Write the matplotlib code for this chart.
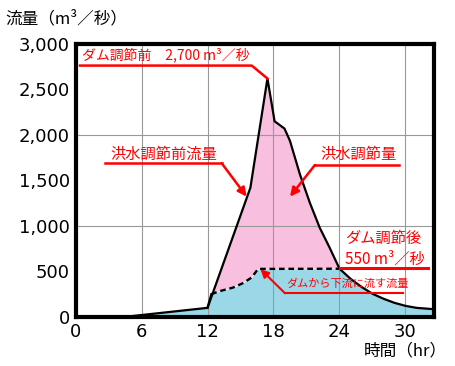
import matplotlib
matplotlib.use("Agg")
import matplotlib.pyplot as plt
import numpy as np

JP = ["Noto Sans CJK JP", "DejaVu Sans"]
plt.rcParams['font.family'] = JP

# ---- data ----
inflow_t = [4.4, 12.0, 15.9, 17.45, 18.1, 19.0, 19.5, 20.4, 21.3, 22.2, 23.1, 24.0,
            25.0, 26.0, 27.0, 28.0, 29.0, 30.0, 31.0, 32.6]
inflow_q = [0, 100, 1420, 2620, 2150, 2070, 1934, 1568, 1256, 981, 762, 530,
            420, 330, 255, 200, 155, 122, 100, 85]
outflow_t = [12.0, 12.35, 13.0, 14.3, 15.2, 16.0, 16.6, 24.0]
outflow_q = [100, 250, 280, 322, 370, 432, 528, 530]

x_ticks = [0, 6, 12, 18, 24, 30]
y_ticks = [0, 500, 1000, 1500, 2000, 2500, 3000]
y_tick_labels = ["0", "500", "1,000", "1,500", "2,000", "2,500", "3,000"]
y_grid = [1000, 2000]

PINK = "#f8c0de"
BLUE = "#9ad8e8"
RED = "#ff0000"

fig = plt.figure(figsize=(4.55, 3.66), dpi=100)
ax = fig.add_axes([0.166, 0.134, 0.788, 0.746])
ax.set_xlim(0, 32.6)
ax.set_ylim(0, 3000)

# combined outflow (equal to inflow outside the regulation period)
it = np.array(inflow_t); iq = np.array(inflow_q)
ot = np.array(outflow_t); oq = np.array(outflow_q)
pre = it < outflow_t[0]
post = it > outflow_t[-1]
comb_t = np.concatenate([it[pre], ot, it[post]])
comb_q = np.concatenate([iq[pre], oq, iq[post]])

grid_t = np.union1d(it, comb_t)
in_i = np.interp(grid_t, it, iq)
out_i = np.interp(grid_t, comb_t, comb_q)

ax.fill_between(grid_t, 0, out_i, color=BLUE, lw=0, zorder=1)
ax.fill_between(grid_t, out_i, in_i, where=in_i >= out_i, color=PINK, lw=0, zorder=1, interpolate=True)

for x in x_ticks[1:]:
    ax.axvline(x, color="#999999", lw=0.8, zorder=2)
for y in y_grid:
    ax.axhline(y, color="#999999", lw=0.8, zorder=2)

ax.plot(it, iq, color="black", lw=1.6, zorder=4, solid_joinstyle="miter")
ax.plot(ot[:2], oq[:2], color="black", lw=1.6, zorder=4)
ax.plot(ot[1:], oq[1:], color="black", lw=1.7, ls=(0, (2.4, 1.6)), zorder=4)

for s in ax.spines.values():
    s.set_linewidth(3.0)
    s.set_zorder(6)

ax.set_xticks(x_ticks)
ax.set_xticklabels([str(v) for v in x_ticks], family="DejaVu Sans", fontsize=13)
ax.set_yticks(y_ticks)
ax.set_yticklabels(y_tick_labels, family="DejaVu Sans", fontsize=13)
ax.tick_params(length=0, pad=4)

fig.text(0.011, 0.948, "流量（m³／秒）", fontsize=12, va="center", ha="left")
fig.text(0.982, 0.04, "時間（hr）", fontsize=12, va="center", ha="right")

# ---- annotations ----
# before regulation peak
ax.text(0.59, 2880, "ダム調節前　2,700 m³／秒", color=RED, fontsize=10, va="center", ha="left", zorder=7)
ax.plot([0.41, 16.02, inflow_t[3]], [2762, 2762, inflow_q[3]], color=RED, lw=1.8, zorder=7, clip_on=False)

# inflow label
ax.text(3.14, 1785, "洪水調節前流量", color=RED, fontsize=11, va="center", ha="left", zorder=7)
ax.plot([2.68, 13.29], [1689, 1689], color=RED, lw=1.8, zorder=7)
ax.annotate("", xy=(15.56, 1322), xytext=(13.29, 1689),
            arrowprops=dict(arrowstyle="-|>", color=RED, lw=1.8, mutation_scale=13,
                            shrinkA=0, shrinkB=0), zorder=7)

# regulated volume label
ax.text(22.23, 1785, "洪水調節量", color=RED, fontsize=11, va="center", ha="left", zorder=7)
ax.plot([21.77, 29.41], [1670, 1670], color=RED, lw=1.8, zorder=7)
ax.annotate("", xy=(19.5, 1322), xytext=(21.77, 1670),
            arrowprops=dict(arrowstyle="-|>", color=RED, lw=1.8, mutation_scale=13,
                            shrinkA=0, shrinkB=0), zorder=7)

# after regulation
ax.text(24.5, 860, "ダム調節後", color=RED, fontsize=11, va="center", ha="left", zorder=7)
ax.text(24.5, 640, "550 m³／秒", color=RED, fontsize=11, va="center", ha="left", zorder=7)
ax.plot([24.05, 32.05], [535, 535], color=RED, lw=2.2, zorder=7)

# downstream release label
ax.text(19.14, 365, "ダムから下流に流す流量", color=RED, fontsize=8, va="center", ha="left", zorder=7)
ax.plot([19.05, 29.77], [260, 260], color=RED, lw=1.5, zorder=7)
ax.annotate("", xy=(16.82, 525), xytext=(19.05, 260),
            arrowprops=dict(arrowstyle="-|>", color=RED, lw=1.5, mutation_scale=12,
                            shrinkA=0, shrinkB=0), zorder=7)

fig.savefig("out.png", dpi=100)
